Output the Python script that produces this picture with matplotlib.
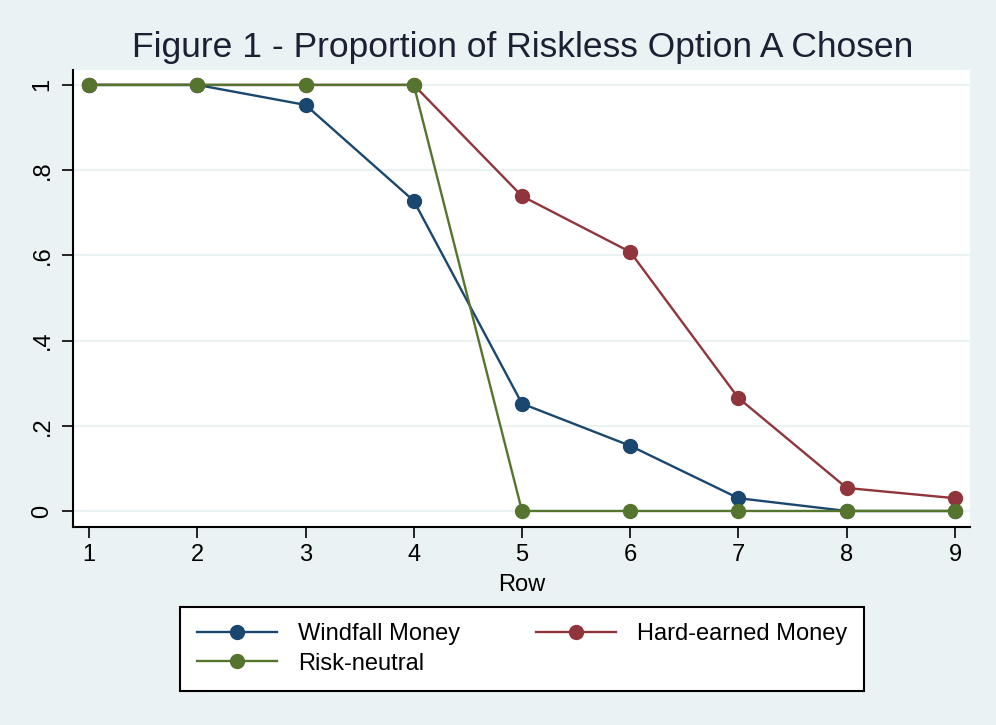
import matplotlib
matplotlib.use("Agg")
import matplotlib.pyplot as plt

rows = [1, 2, 3, 4, 5, 6, 7, 8, 9]
windfall = [1, 1, 0.953, 0.728, 0.252, 0.153, 0.03, 0, 0]
hard_earned = [1, 1, 1, 1, 0.739, 0.608, 0.265, 0.054, 0.03]
risk_neutral = [1, 1, 1, 1, 0, 0, 0, 0, 0]

yticks = [0, 0.2, 0.4, 0.6, 0.8, 1]
ytick_labels = ["0", ".2", ".4", ".6", ".8", "1"]

plt.rcParams['font.family'] = ['Liberation Sans', 'DejaVu Sans']

bg = "#EAF2F3"
fig = plt.figure(figsize=(9.96, 7.25), dpi=100, facecolor=bg)
ax = fig.add_axes([73 / 996, 1 - 527 / 725, 897 / 996, 457 / 725])
ax.set_facecolor("white")

style = dict(marker="o", markersize=10, linewidth=1.7)
l1, = ax.plot(rows, windfall, color="#1A476F", label="Windfall Money", **style)
l2, = ax.plot(rows, hard_earned, color="#90353B", label="Hard-earned Money", **style)
l3, = ax.plot(rows, risk_neutral, color="#55752F", label="Risk-neutral", **style)

ax.set_xlim(0.852, 9.139)
ax.set_ylim(-0.0376, 1.035)
ax.set_xticks(rows)
ax.set_yticks(yticks)
ax.set_yticklabels(ytick_labels, rotation=90, va="center")
ax.tick_params(axis="both", direction="out", length=8, width=1.2,
               labelsize=17, colors="black")
ax.tick_params(axis="x", pad=4)
ax.tick_params(axis="y", pad=6)
ax.grid(axis="y", color=bg, linewidth=1.5)
ax.set_axisbelow(True)

for side in ["top", "right"]:
    ax.spines[side].set_visible(False)
for side in ["left", "bottom"]:
    ax.spines[side].set_linewidth(1.5)
    ax.spines[side].set_color("black")

ax.set_xlabel("Row", fontsize=17, labelpad=6)
fig.text(523 / 996, 1 - 47 / 725, "Figure 1 - Proportion of Riskless Option A Chosen",
         ha="center", va="center", fontsize=25.5, color="#1c2033")

leg = fig.legend([l1, l3, l2], ["Windfall Money", "Risk-neutral", "Hard-earned Money"],
                 ncol=2, loc="center", bbox_to_anchor=(522 / 996, 1 - 649 / 725),
                 fontsize=17, frameon=True, fancybox=False, edgecolor="black",
                 framealpha=1, facecolor="white",
                 handlelength=3.4, columnspacing=3.2, labelspacing=0.3,
                 borderpad=0.7, handletextpad=0.9)
leg.get_frame().set_linewidth(1.5)

fig.savefig("out.png", dpi=100, facecolor=bg)
